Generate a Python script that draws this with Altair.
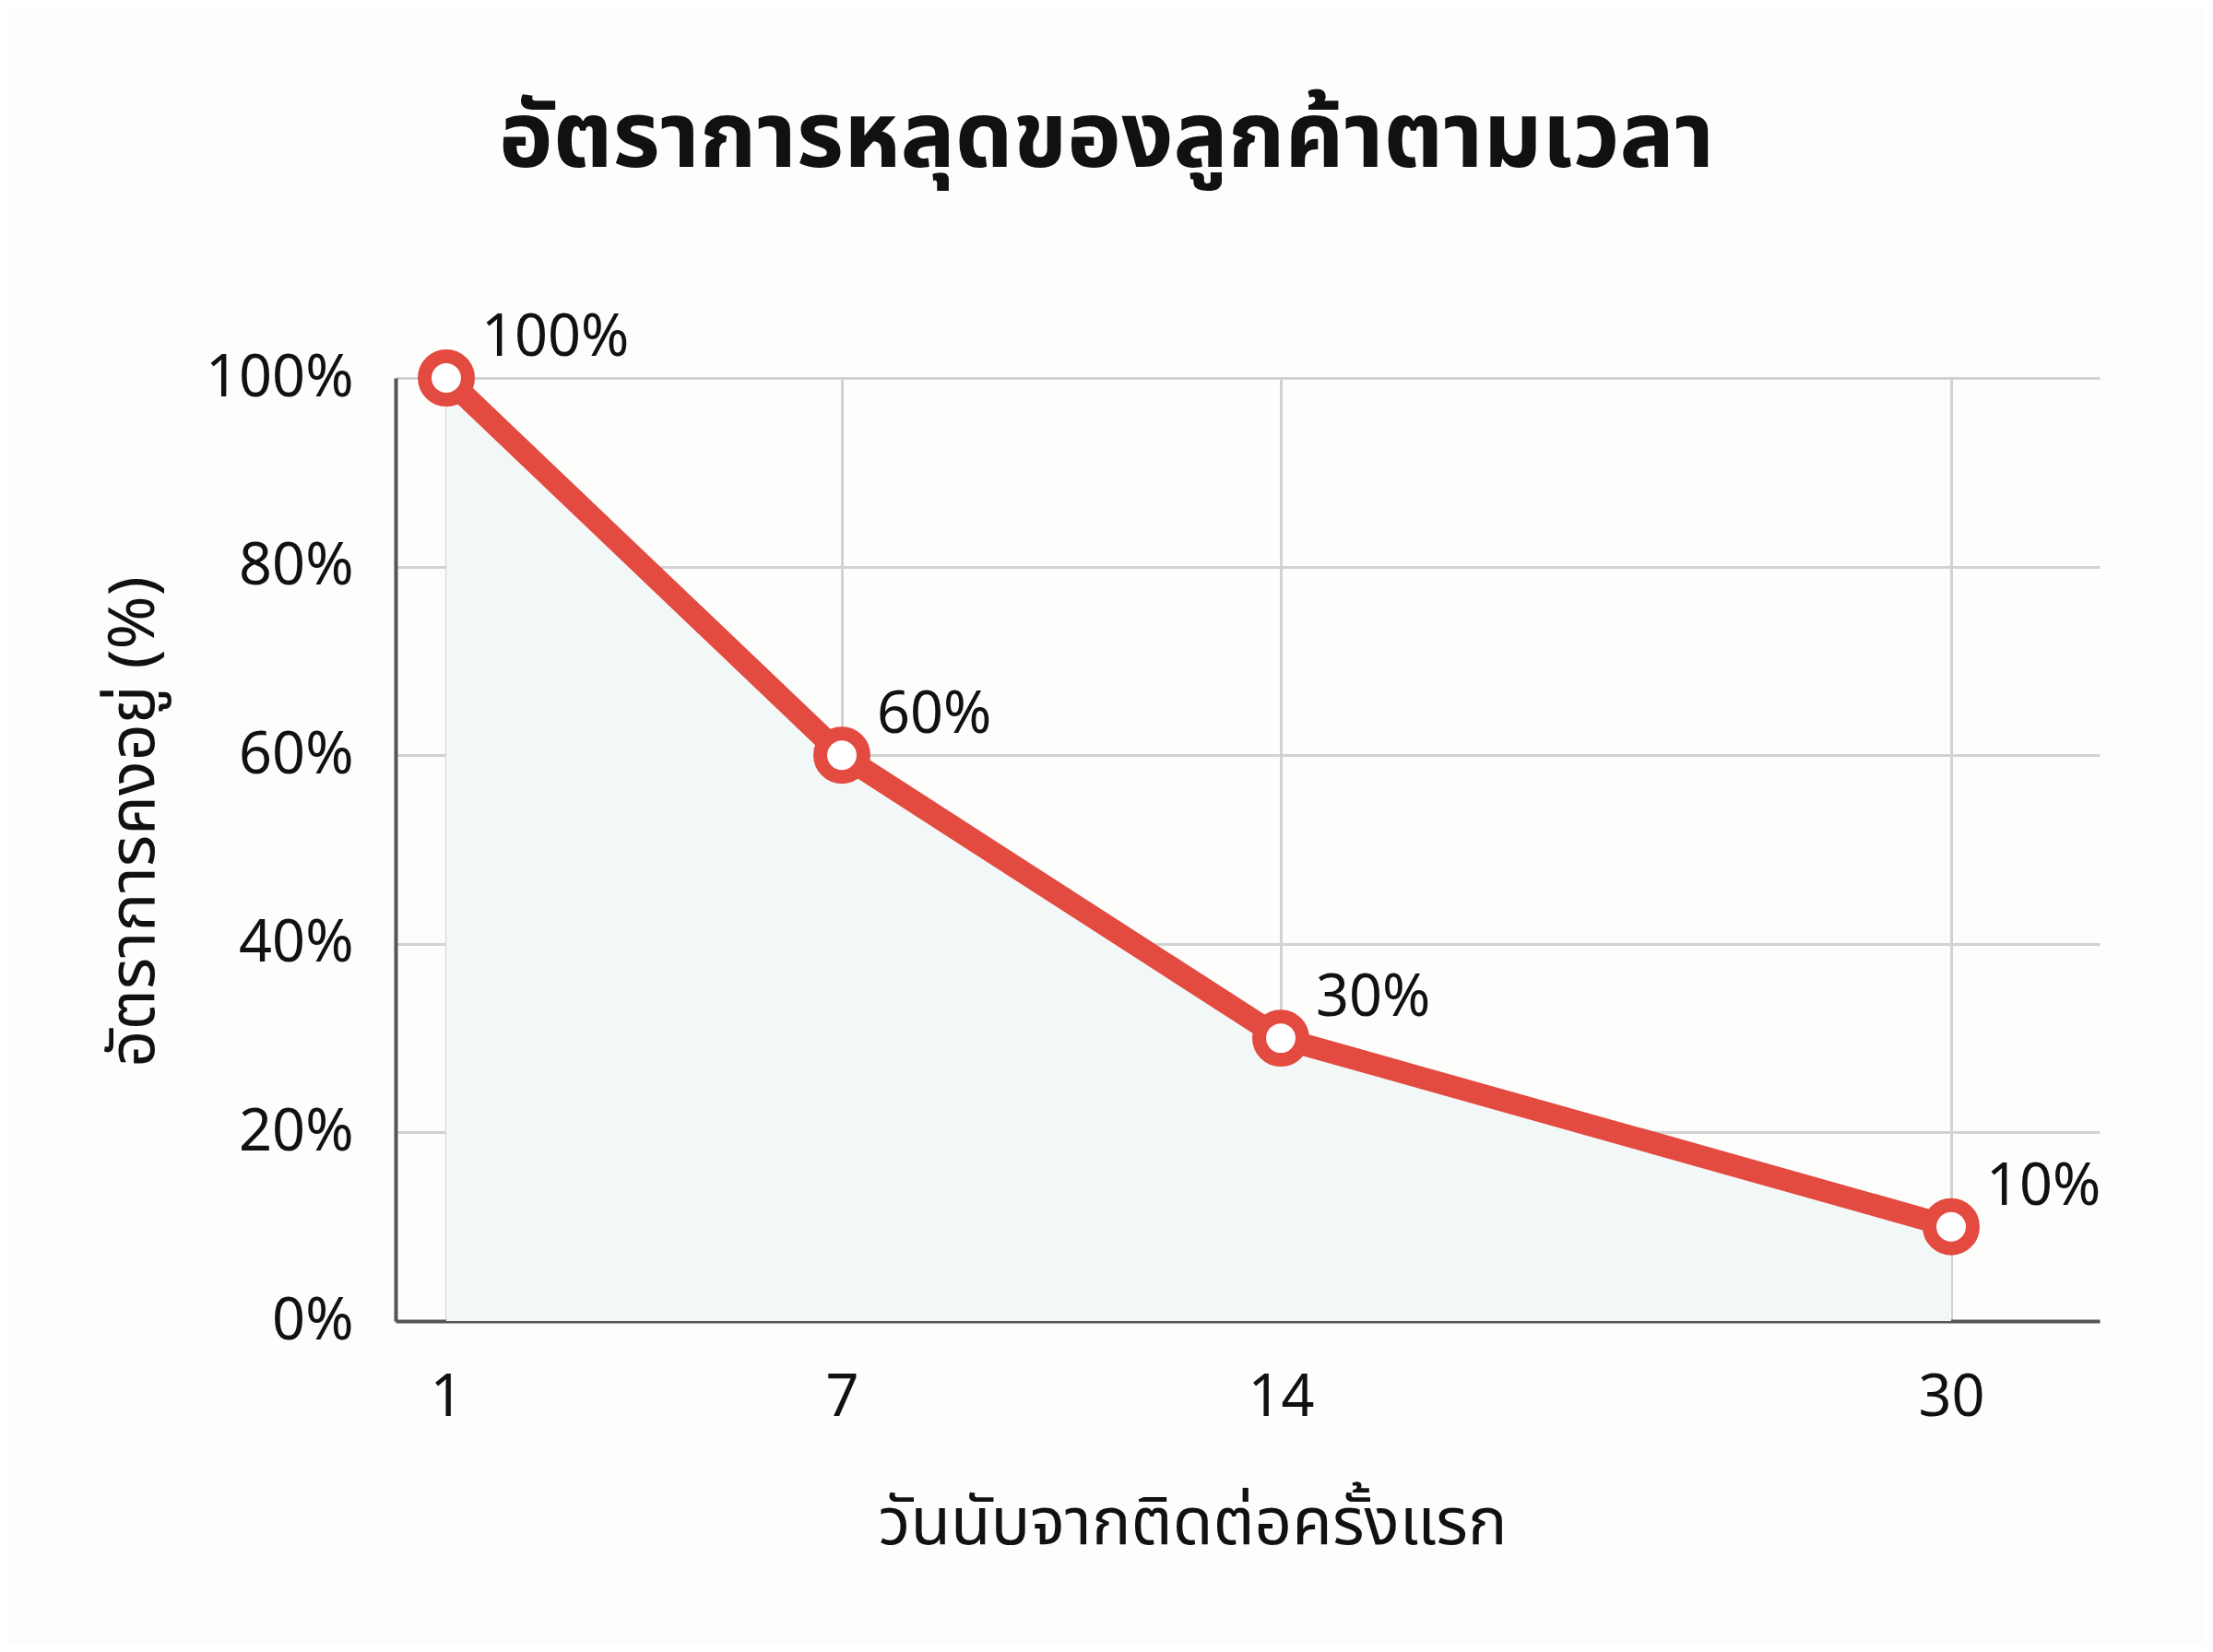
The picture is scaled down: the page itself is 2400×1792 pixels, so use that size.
import altair as alt
import pandas as pd

days = [1, 7, 14, 30]
retention = [100, 60, 30, 10]
labels = ["100%", "60%", "30%", "10%"]
x_ticks = [1, 7, 14, 30]
y_ticks = [0, 20, 40, 60, 80, 100]

TITLE = "อัตราการหลุดของลูกค้าตามเวลา"
X_TITLE = "วันนับจากติดต่อครั้งแรก"
Y_TITLE = "อัตราการคงอยู่ (%)"

df = pd.DataFrame({"day": days, "ret": retention, "label": labels})

FONT = "Noto Sans, Noto Sans Thai, Loma, Garuda, sans-serif"
RED = "#e34a40"

W, H = 1848, 1023
xscale = alt.Scale(domain=[0.231, 1, 7, 14, 30, 33.57],
                   range=[0, 55, 484, 960, 1687, W], nice=False, zero=False)
yscale = alt.Scale(domain=[0, 100], nice=False)

x = alt.X("day:Q", scale=xscale,
          axis=alt.Axis(values=x_ticks, title=X_TITLE, format="d",
                        labelFontSize=63, labelPadding=52, labelColor="#111",
                        labelFont=FONT, tickSize=0, grid=True, gridColor="#d2d2d2",
                        gridWidth=3, domainColor="#555", domainWidth=4,
                        titleFont=FONT, titleFontSize=71, titleFontWeight="normal",
                        titleColor="#111", titleX=864, titleY=220,
                        titleBaseline="middle", titleAnchor="middle"))
y = alt.Y("ret:Q", scale=yscale,
          axis=alt.Axis(values=y_ticks, title=Y_TITLE, labelExpr="datum.value + '%'",
                        labelFontSize=63, labelPadding=46, labelColor="#111",
                        labelFont=FONT, tickSize=0, grid=True, gridColor="#d2d2d2",
                        gridWidth=3, domainColor="#555", domainWidth=4,
                        titleFont=FONT, titleFontSize=70, titleFontWeight="normal",
                        titleColor="#111", titleX=-284, titleY=481, titleAngle=-90,
                        titleBaseline="middle", titleAnchor="middle"))

base = alt.Chart(df)
area = base.mark_area(color="#f2f7f8", opacity=1).encode(x=x, y=y)
line = base.mark_line(color=RED, strokeWidth=24, strokeJoin="round").encode(x=x, y=y)
pts = base.mark_point(filled=True, fill="white", stroke=RED, strokeWidth=15,
                      size=2200, opacity=1).encode(x=x, y=y)
txt = base.mark_text(align="left", baseline="alphabetic", dx=38, dy=-24,
                     fontSize=63, font=FONT, color="#111").encode(x=x, y=y, text="label:N")

chart = alt.layer(area, line, pts, txt).properties(
    width=W, height=H,
    autosize=alt.AutoSizeParams(type="none"),
    padding={"left": 421, "top": 402, "right": 115, "bottom": 350},
    background="#fdfdfb",
    title=alt.TitleParams(TITLE, font=FONT, fontSize=99, fontWeight="bold",
                          color="#111", anchor="middle", frame="group",
                          dx=-153, offset=56, baseline="alphabetic"),
).configure_view(stroke=None)

chart.save("out.html", embed_options={"renderer": "svg", "actions": False})
